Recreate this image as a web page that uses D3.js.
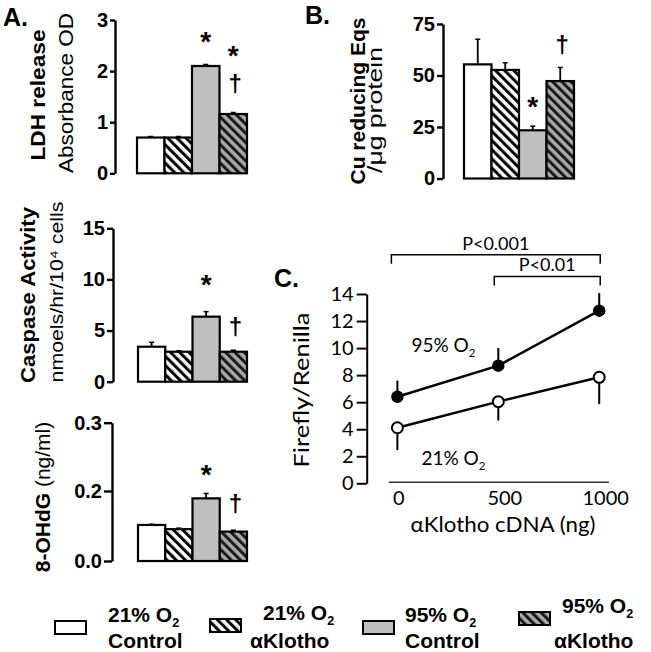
<!DOCTYPE html>
<html><head><meta charset="utf-8">
<script src="https://cdn.jsdelivr.net/npm/d3@7"></script>
<style>body{margin:0;background:#fff} svg{display:block}</style>
</head><body><svg id="c" width="651" height="652"></svg>
<script>
// ---------- data ----------
const groups = ["21% O2 Control", "21% O2 αKlotho", "95% O2 Control", "95% O2 αKlotho"];
const ldhValues = [0.70, 0.70, 2.10, 1.16];
const ldhErr = [0.02, 0.02, 0.03, 0.03];
const caspaseValues = [3.42, 2.93, 6.36, 2.93];
const caspaseErr = [0.43, 0.10, 0.49, 0.15];
const ohdgValues = [0.103, 0.091, 0.179, 0.084];
const ohdgErr = [0.002, 0.003, 0.014, 0.004];
const cuValues = [55.4, 52.7, 23.4, 47.3];
const cuErr = [12.2, 3.5, 2.0, 6.6];
const ldhTicks = [0, 1, 2, 3];
const caspaseTicks = [0, 5, 10, 15];
const ohdgTicks = [0, 0.2, 0.3];
const cuTicks = [0, 25, 50, 75];
const cdna = [0, 500, 1000];
const luc95 = [6.4, 8.7, 12.77];
const luc95Err = [1.2, 1.3, 1.3];
const luc21 = [4.11, 6.04, 7.84];
const luc21Err = [1.65, 1.4, 1.98];
const lucTicks = [0, 2, 4, 6, 8, 10, 12, 14];
const legendLine1 = ["21% O", "21% O", "95% O", "95% O"];
const legendLine2 = ["Control", "αKlotho", "Control", "αKlotho"];

const SANS = "'Liberation Sans', Arial, sans-serif";
const CAL = "Lato, 'Open Sans', sans-serif";
const svg = d3.select("#c");
const fills = ["#ffffff", "url(#hatchW)", "#bfbfbf", "url(#hatchG)"];

// patterns
const defs = svg.append("defs");
function hatch(id, bg, fg) {
  const p = defs.append("pattern").attr("id", id).attr("patternUnits", "userSpaceOnUse")
    .attr("width", 6.5).attr("height", 6.5).attr("patternTransform", "rotate(-45)");
  p.append("rect").attr("width", 6.5).attr("height", 6.5).attr("fill", bg);
  p.append("rect").attr("x", 0).attr("width", 3).attr("height", 6.5).attr("fill", fg);
}
hatch("hatchW", "#ffffff", "#000000");
hatch("hatchG", "#a9a9a9", "#1a1a1a");

function styleAxis(g, font, size, weight, sw) {
  g.select(".domain").attr("stroke", "#000").attr("stroke-width", sw);
  g.selectAll(".tick line").attr("stroke", "#000").attr("stroke-width", sw);
  g.selectAll(".tick text").attr("font-family", font).attr("font-size", size)
    .attr("font-weight", weight).attr("fill", "#000");
}

function rotLabel(x, y, parts, size, len) {
  const t = svg.append("text").attr("transform", `translate(${x},${y}) rotate(-90)`)
    .attr("text-anchor", "middle").attr("font-family", SANS).attr("font-size", size).attr("fill", "#000");
  if (len) t.attr("textLength", len).attr("lengthAdjust", "spacingAndGlyphs");
  parts.forEach(p => t.append("tspan").attr("font-weight", p[1]).text(p[0]));
  return t;
}

function barPanel(o) {
  const band = d3.scaleBand().domain(groups).range(o.xr).padding(0);
  const y = o.y;
  const ax = svg.append("g").attr("transform", `translate(${o.axisX},0)`)
    .call(d3.axisLeft(y).tickValues(o.ticks).tickFormat(o.fmt).tickSize(o.tickSize).tickSizeOuter(0).tickPadding(2));
  styleAxis(ax, SANS, 20, "bold", 2.4);
  const g = svg.append("g");
  g.selectAll("line.err").data(o.values).enter().append("line")
    .attr("x1", (d, i) => band(groups[i]) + band.bandwidth() / 2)
    .attr("x2", (d, i) => band(groups[i]) + band.bandwidth() / 2)
    .attr("y1", d => y(d)).attr("y2", (d, i) => y(d + o.errs[i]))
    .attr("stroke", "#000").attr("stroke-width", 1.8);
  g.selectAll("line.cap").data(o.values).enter().append("line")
    .attr("x1", (d, i) => band(groups[i]) + band.bandwidth() / 2 - 2.5)
    .attr("x2", (d, i) => band(groups[i]) + band.bandwidth() / 2 + 2.5)
    .attr("y1", (d, i) => y(d + o.errs[i])).attr("y2", (d, i) => y(d + o.errs[i]))
    .attr("stroke", "#000").attr("stroke-width", 1.5);
  g.selectAll("rect").data(o.values).enter().append("rect")
    .attr("x", (d, i) => band(groups[i]))
    .attr("width", band.bandwidth())
    .attr("y", d => y(d)).attr("height", d => y(0) - y(d))
    .attr("fill", (d, i) => fills[i]).attr("stroke", "#000").attr("stroke-width", 2.2);
  o.ann.forEach(a => {
    const top = y(o.values[a.i] + o.errs[a.i]) - a.off;
    const fs = a.sym === "*" ? 28 : 24;
    const base = top + (a.sym === "*" ? 0.58 : 0.3) * fs;
    svg.append("text").attr("x", band(groups[a.i]) + band.bandwidth() / 2 + (a.sym === "*" ? 0 : 2))
      .attr("y", base).attr("text-anchor", "middle").attr("font-family", SANS)
      .attr("font-weight", "bold").attr("font-size", fs).text(a.sym);
  });
}

// Panel A top: LDH
barPanel({
  values: ldhValues, errs: ldhErr, ticks: ldhTicks, fmt: d3.format("d"),
  y: d3.scaleLinear().domain([0, 3]).range([173.3, 20]),
  axisX: 115, xr: [137, 247], tickSize: 5,
  ann: [{i: 2, sym: "*", off: 30}, {i: 3, sym: "*", off: 64}, {i: 3, sym: "†", off: 28}]
});
// Panel A middle: caspase
barPanel({
  values: caspaseValues, errs: caspaseErr, ticks: caspaseTicks, fmt: d3.format("d"),
  y: d3.scaleLinear().domain([0, 15]).range([381.7, 228.3]),
  axisX: 113, xr: [138, 247], tickSize: 6,
  ann: [{i: 2, sym: "*", off: 34}, {i: 3, sym: "†", off: 22}]
});
// Panel A bottom: 8-OHdG (axis drawn with uneven labels in original)
barPanel({
  values: ohdgValues, errs: ohdgErr, ticks: ohdgTicks, fmt: d3.format(".1f"),
  y: d3.scaleLinear().domain([0, 0.2, 0.3]).range([561, 491, 422.7]),
  axisX: 112, xr: [138, 247], tickSize: 8,
  ann: [{i: 2, sym: "*", off: 26}, {i: 3, sym: "†", off: 25}]
});
// Panel B: Cu reducing
barPanel({
  values: cuValues, errs: cuErr, ticks: cuTicks, fmt: d3.format("d"),
  y: d3.scaleLinear().domain([0, 75]).range([178.5, 24]),
  axisX: 443, xr: [464, 574], tickSize: 6,
  ann: [{i: 2, sym: "*", off: 26}, {i: 3, sym: "†", off: 22}]
});

// Axis titles
rotLabel(45, 95, [["LDH release", "bold"]], 20, 131);
rotLabel(73, 93, [["Absorbance OD", "normal"]], 21, 160);
rotLabel(35, 295, [["Caspase Activity", "bold"]], 20, 176);
rotLabel(63, 292, [["nmoels/hr/10⁴ cells", "normal"]], 19, 181);
rotLabel(50, 497, [["8-OHdG", "bold"], [" (ng/ml)", "normal"]], 21, null);
rotLabel(365, 101, [["Cu reducing Eqs", "bold"]], 20, 167);
rotLabel(382, 110, [["/μg protein", "normal"]], 20, 126);

// Panel letters
[["A.", 3, 26], ["B.", 305, 24], ["C.", 274, 287]].forEach(p => {
  svg.append("text").attr("x", p[1]).attr("y", p[2]).attr("font-family", SANS)
    .attr("font-weight", "bold").attr("font-size", 25).text(p[0]);
});

// Panel C: luciferase
const xC = d3.scaleLinear().domain([-45, 1045]).range([388.3, 608.3]);
const yC = d3.scaleLinear().domain([0, 14]).range([483.3, 294]);
const axY = svg.append("g").attr("transform", "translate(366.7,0)")
  .call(d3.axisLeft(yC).tickValues(lucTicks).tickSize(10).tickSizeOuter(0).tickPadding(3));
styleAxis(axY, CAL, 20, "normal", 2);
const axX = svg.append("g").attr("transform", `translate(0,${yC(0) - 1.5})`)
  .call(d3.axisBottom(xC).tickValues(cdna).tickFormat(d3.format("d")).tickSize(0).tickSizeOuter(0).tickPadding(9));
styleAxis(axX, CAL, 20, "normal", 1.4);
axX.select(".domain").attr("stroke", "#333");
axX.selectAll(".tick text").attr("dx", (d) => d === 0 ? 1 : 6);

const lineGen = d3.line().x((d, i) => xC(cdna[i])).y(d => yC(d));
// error bars
cdna.forEach((c, i) => {
  svg.append("line").attr("x1", xC(c)).attr("x2", xC(c)).attr("y1", yC(luc95[i])).attr("y2", yC(luc95[i] + luc95Err[i]))
    .attr("stroke", "#000").attr("stroke-width", 2);
  svg.append("line").attr("x1", xC(c)).attr("x2", xC(c)).attr("y1", yC(luc21[i])).attr("y2", yC(luc21[i] - luc21Err[i]))
    .attr("stroke", "#000").attr("stroke-width", 2);
});
svg.append("path").attr("d", lineGen(luc95)).attr("fill", "none").attr("stroke", "#000").attr("stroke-width", 2.5);
svg.append("path").attr("d", lineGen(luc21)).attr("fill", "none").attr("stroke", "#000").attr("stroke-width", 2.5);
svg.selectAll("circle.f").data(luc95).enter().append("circle")
  .attr("cx", (d, i) => xC(cdna[i])).attr("cy", d => yC(d)).attr("r", 5.5)
  .attr("fill", "#000").attr("stroke", "#000").attr("stroke-width", 1.5);
svg.selectAll("circle.o").data(luc21).enter().append("circle")
  .attr("cx", (d, i) => xC(cdna[i])).attr("cy", d => yC(d)).attr("r", 5.5)
  .attr("fill", "#fff").attr("stroke", "#000").attr("stroke-width", 2);

function subText(x, y, main, sub, size, font, weight, anchor) {
  const t = svg.append("text").attr("x", x).attr("y", y).attr("font-family", font)
    .attr("font-size", size).attr("font-weight", weight).attr("fill", "#000");
  if (anchor) t.attr("text-anchor", anchor);
  t.append("tspan").text(main);
  t.append("tspan").attr("dy", size * 0.25).attr("font-size", size * 0.6).text(sub);
  return t;
}
subText(xC(0) + 14, yC(9.7), "95% O", "2", 19, CAL, "normal");
subText(xC(0) + 24, yC(1.35), "21% O", "2", 19, CAL, "normal");

// significance brackets
const brackets = [
  {from: 0, to: 1000, label: "P<0.001", lvl: 16.9, dl: -6},
  {from: 500, to: 1000, label: "P<0.01", lvl: 15.3, dl: -4}
];
brackets.forEach(b => {
  const yb = yC(b.lvl), x1 = xC(b.from) + b.dl, x2 = xC(b.to) + 1;
  svg.append("path").attr("d", `M${x1},${yb + 9}V${yb}H${x2}V${yb + 9}`)
    .attr("fill", "none").attr("stroke", "#000").attr("stroke-width", 1.5);
  svg.append("text").attr("x", (x1 + x2) / 2).attr("y", yb - 5).attr("text-anchor", "middle")
    .attr("font-family", CAL).attr("font-size", 18).text(b.label);
});

svg.append("text").attr("transform", "translate(309,390) rotate(-90)").attr("text-anchor", "middle")
  .attr("font-family", CAL).attr("font-size", 22).attr("textLength", 155).attr("lengthAdjust", "spacingAndGlyphs")
  .text("Firefly/Renilla");
svg.append("text").attr("x", 503).attr("y", 532).attr("text-anchor", "middle")
  .attr("font-family", CAL).attr("font-size", 21).attr("textLength", 185).attr("lengthAdjust", "spacingAndGlyphs")
  .text("αKlotho cDNA (ng)");

// Legend
const boxX = [55, 210, 363, 519], boxY = [621, 619, 621, 612];
const l1X = [108, 263, 405, 562], l1Y = [622, 620, 622, 613];
const l2X = [108, 250, 405, 554];
groups.forEach((gname, i) => {
  svg.append("rect").attr("x", boxX[i]).attr("y", boxY[i]).attr("width", 31).attr("height", 13)
    .attr("fill", fills[i]).attr("stroke", "#000").attr("stroke-width", 2);
  subText(l1X[i], l1Y[i], legendLine1[i], "2", 21, SANS, "bold");
  svg.append("text").attr("x", l2X[i]).attr("y", 648).attr("font-family", SANS)
    .attr("font-weight", "bold").attr("font-size", 21).text(legendLine2[i]);
});
</script></body></html>
